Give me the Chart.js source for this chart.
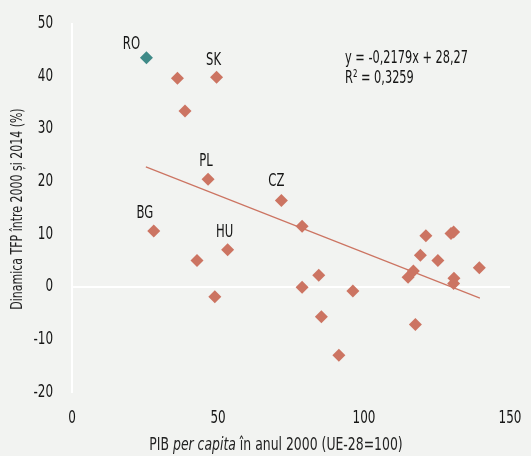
<!DOCTYPE html>
<html>
<head>
<meta charset="utf-8">
<script src="https://cdn.jsdelivr.net/npm/chart.js@4"></script>
<style>
html,body{margin:0;padding:0;background:#f2f3f1;}
#wrap{width:531px;height:456px;}
</style>
</head>
<body>
<div id="wrap"><canvas id="c" width="531" height="456"></canvas></div>
<script>
const FONT = '"DejaVu Sans Condensed","Liberation Sans Narrow",sans-serif';
// GDP per capita in 2000 (EU-28=100)
const gdp = [25.5, 36.1, 49.5, 38.7, 46.6, 71.7, 28.0, 53.3, 42.8, 48.9, 78.8, 78.8, 84.5, 96.2, 85.4, 91.4, 117.6, 115.1, 116.9, 119.3, 121.2, 125.3, 129.8, 130.7, 130.8, 130.7, 139.5];
// TFP dynamics 2000-2014 (%)
const tfp = [43.5, 39.6, 39.8, 33.4, 20.4, 16.4, 10.6, 7.0, 5.0, -1.9, 11.5, -0.1, 2.2, -0.8, -5.7, -13.0, -7.2, 1.8, 3.0, 6.0, 9.7, 5.0, 10.1, 10.4, 1.6, 0.6, 3.6];
const countryLabels = ['RO', '', 'SK', '', 'PL', 'CZ', 'BG', 'HU', '', '', '', '', '', '', '', '', '', '', '', '', '', '', '', '', '', '', ''];
const highlight = 'RO';
const trendSlope = -0.2179;
const trendIntercept = 28.27;
const trendX = [25.3, 139.7];
const eqLines = ['y = -0,2179x + 28,27', 'R² = 0,3259'];
const xTicks = [0, 50, 100, 150];
const yTicks = [-20, -10, 0, 10, 20, 30, 40, 50];
const yTitle = 'Dinamica TFP între 2000 și 2014 (%)';
const xTitleParts = [['PIB ', false], ['per capita', true], [' în anul 2000 (UE-28=100)', false]];

const SALMON = '#cc7462', TEAL = '#3f8a88';
const pts = gdp.map((x, i) => ({x: x, y: tfp[i]}));
const colors = countryLabels.map(l => l === highlight ? TEAL : SALMON);

const labelOffsets = {RO: [-15, -13], SK: [-3, -17], PL: [-2, -18], CZ: [-5, -19], BG: [-9, -17], HU: [-3, -17]};

function txt(ctx, s, x, y, align, sx, font, rot) {
  ctx.save();
  ctx.translate(x, y);
  if (rot) ctx.rotate(rot);
  ctx.scale(sx, 1);
  ctx.font = font;
  ctx.textAlign = align;
  ctx.textBaseline = 'middle';
  ctx.fillText(s, 0, 0);
  ctx.restore();
}

const labelPlugin = {
  id: 'labels',
  afterDatasetsDraw(chart) {
    const ctx = chart.ctx;
    const meta = chart.getDatasetMeta(1);
    ctx.save();
    ctx.fillStyle = '#151515';
    meta.data.forEach((el, i) => {
      const t = countryLabels[i];
      if (!t) return;
      const o = labelOffsets[t] || [0, -17];
      txt(ctx, t, el.x + o[0], el.y + o[1], 'center', 0.76, '17px ' + FONT);
    });
    // equation
    txt(ctx, eqLines[0], 345, 58, 'left', 0.7, '18px ' + FONT);
    txt(ctx, eqLines[1], 345, 78, 'left', 0.7, '18px ' + FONT);
    // tick labels
    const xs = chart.scales.x, ys = chart.scales.y;
    xTicks.forEach(v => txt(ctx, String(v), xs.getPixelForValue(v), 418, 'center', 0.74, '18px ' + FONT));
    yTicks.forEach(v => txt(ctx, String(v), 53, ys.getPixelForValue(v), 'right', 0.74, '18px ' + FONT));
    // y title
    ctx.fillStyle = '#222';
    txt(ctx, yTitle, 18, 209, 'center', 0.74, '16.5px ' + FONT, -Math.PI / 2);
    // x title with italic part
    const sx = 0.8, size = '17.3px ';
    let total = 0;
    xTitleParts.forEach(p => { ctx.font = (p[1] ? 'italic ' : '') + size + FONT; total += ctx.measureText(p[0]).width * sx; });
    let x = 276 - total / 2;
    xTitleParts.forEach(p => {
      const f = (p[1] ? 'italic ' : '') + size + FONT;
      txt(ctx, p[0], x, 446, 'left', sx, f);
      ctx.font = f;
      x += ctx.measureText(p[0]).width * sx;
    });
    ctx.restore();
  }
};

new Chart(document.getElementById('c'), {
  type: 'scatter',
  data: {
    datasets: [
      {
        type: 'line',
        data: trendX.map(x => ({x: x, y: trendSlope * x + trendIntercept})),
        borderColor: SALMON,
        borderWidth: 1.2,
        pointRadius: 0,
        fill: false,
        order: 2
      },
      {
        data: pts,
        pointStyle: 'rectRot',
        pointRadius: 6.5,
        pointHoverRadius: 6.5,
        backgroundColor: colors,
        borderColor: colors,
        borderWidth: 0,
        order: 1
      }
    ]
  },
  options: {
    responsive: false,
    animation: false,
    layout: {padding: {top: 23.5, right: 21, left: 0, bottom: 0}},
    plugins: {legend: {display: false}, tooltip: {enabled: false}},
    scales: {
      x: {
        type: 'linear', min: 0, max: 150,
        afterBuildTicks: s => { s.ticks = xTicks.map(v => ({value: v})); },
        grid: {display: false},
        border: {display: false},
        ticks: {display: false},
        afterFit: s => { s.height = 64; }
      },
      y: {
        type: 'linear', min: -20, max: 50,
        afterBuildTicks: s => { s.ticks = yTicks.map(v => ({value: v})); },
        grid: {
          drawTicks: false,
          color: c => c.tick && c.tick.value === 0 ? '#ffffff' : 'rgba(0,0,0,0)',
          lineWidth: 2
        },
        border: {display: true, color: '#ffffff', width: 2},
        ticks: {display: false},
        afterFit: s => { s.width = 72; }
      }
    }
  },
  plugins: [labelPlugin]
});
</script>
</body>
</html>
